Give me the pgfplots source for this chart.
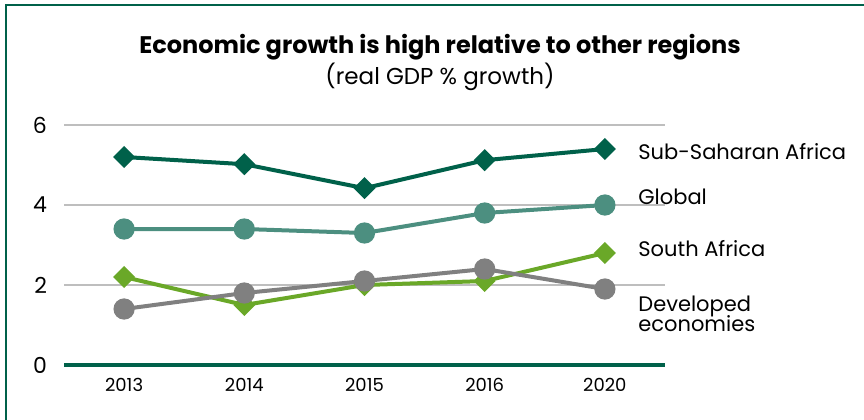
\documentclass[border=0pt]{standalone}
\usepackage{pgfplots}
\pgfplotsset{compat=1.18}
\usepackage{fontspec}
\setmainfont{Poppins}
\definecolor{dkgreen}{RGB}{0,97,74}
\definecolor{teal2}{RGB}{76,143,128}
\definecolor{ltgreen}{RGB}{106,168,40}
\definecolor{gray2}{RGB}{128,128,128}
\definecolor{gridgray}{RGB}{190,190,190}
\begin{document}
\begin{tikzpicture}
\useasboundingbox (0,0) rectangle (432pt,-209.5pt);
\draw[line width=1.2pt, dkgreen] (3pt,-215pt) -- (3pt,-2.6pt) -- (440pt,-2.6pt);
\node[font=\bfseries\fontsize{12}{14}\selectfont] at (220pt,-23.5pt) {Economic growth is high relative to other regions};
\node[font=\fontsize{11.5}{14}\selectfont] at (220pt,-38.5pt) {(real GDP \% growth)};
\begin{axis}[
  at={(32pt,-182.5pt)}, anchor=south west,
  scale only axis, width=300.5pt, height=120pt,
  xmin=-0.5, xmax=4.5, ymin=0, ymax=6,
  xtick={0,1,2,3,4}, xticklabels={2013,2014,2015,2016,2020},
  ytick={0,2,4,6},
  axis line style={draw=none},
  axis x line*=bottom, axis y line*=left,
  major tick length=0pt,
  ymajorgrids, grid style={gridgray, line width=0.8pt},
  /pgf/number format/assume math mode=true,
  xticklabel style={font=\fontsize{9}{10}\selectfont, yshift=-3pt},
  yticklabel style={font=\fontsize{11}{12}\selectfont, xshift=-5pt},
  clip=false,
]
\draw[dkgreen, line width=2pt] (axis cs:-0.5,0) -- (axis cs:4.5,0);
\addplot[dkgreen, line width=2pt, mark=square*, mark size=2.9pt, mark options={solid, rotate=45}] coordinates {(0,5.2)(1,5.02)(2,4.42)(3,5.12)(4,5.4)};
\addplot[teal2, line width=2pt, mark=*, mark size=4.3pt] coordinates {(0,3.4)(1,3.4)(2,3.3)(3,3.8)(4,4.0)};
\addplot[ltgreen, line width=2pt, mark=square*, mark size=2.9pt, mark options={solid, rotate=45}] coordinates {(0,2.2)(1,1.5)(2,2.0)(3,2.1)(4,2.8)};
\addplot[gray2, line width=2pt, mark=*, mark size=4.3pt] coordinates {(0,1.4)(1,1.8)(2,2.1)(3,2.4)(4,1.9)};
\end{axis}
\begin{scope}[every node/.style={anchor=west, font=\fontsize{10.5}{11.5}\selectfont, inner sep=0pt}]
\node at (319pt,-76pt) {Sub-Saharan Africa};
\node at (319pt,-98.5pt) {Global};
\node at (319pt,-124.5pt) {South Africa};
\node[align=left] at (319pt,-157pt) {Developed\\[-1.5pt]economies};
\end{scope}
\end{tikzpicture}
\end{document}
